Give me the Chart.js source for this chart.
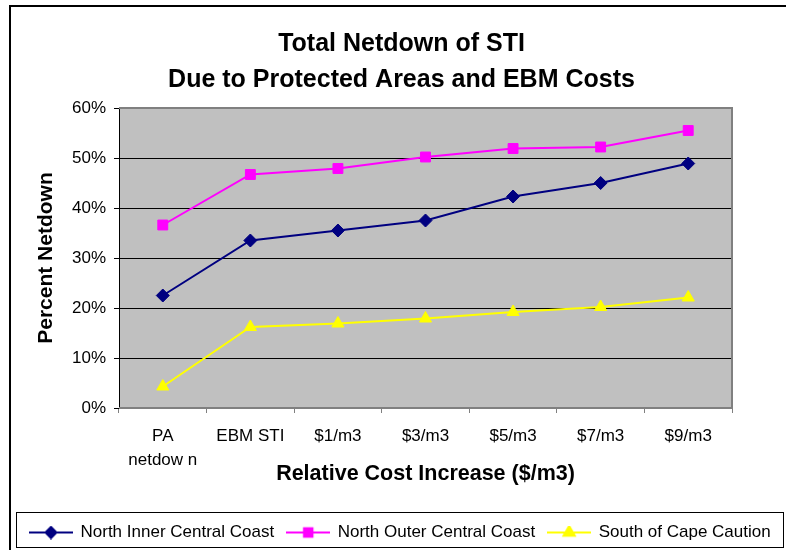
<!DOCTYPE html>
<html>
<head>
<meta charset="utf-8">
<script src="https://cdn.jsdelivr.net/npm/chart.js@4/dist/chart.umd.min.js"></script>
<style>
  body { margin: 0; background: #fff; }
  #wrap { width: 786px; height: 550px; }
</style>
</head>
<body>
<div id="wrap"><canvas id="myChart" width="786" height="550"></canvas></div>
<script>
// values (percent)
const categories = [['PA', 'netdow n'], 'EBM STI', '$1/m3', '$3/m3', '$5/m3', '$7/m3', '$9/m3'];
const northInner = [22.5, 33.5, 35.5, 37.5, 42.3, 45.0, 48.9];
const northOuter = [36.6, 46.7, 47.9, 50.2, 51.9, 52.2, 55.5];
const southCape = [4.3, 16.2, 16.9, 17.9, 19.2, 20.2, 22.1];
const seriesNames = ['North Inner Central Coast', 'North Outer Central Coast', 'South of Cape Caution'];
const yTicks = [0, 10, 20, 30, 40, 50, 60];

const FONT = "'Liberation Sans', Arial, sans-serif";
const PAD_LEFT = 17, PAD_BOTTOM = -1;
const PLOT_BOTTOM = 408, PLOT_LEFT = 119, PLOT_RIGHT = 732;

// little line+marker pictures for the legend, like Excel draws them
function legendIcon(color, style, radius) {
    const c = document.createElement('canvas');
    c.width = 44; c.height = 14;
    const ctx = c.getContext('2d');
    ctx.strokeStyle = color;
    ctx.lineWidth = 2;
    ctx.beginPath();
    ctx.moveTo(0, 7); ctx.lineTo(44, 7);
    ctx.stroke();
    ctx.fillStyle = color;
    Chart.helpers.drawPoint(ctx, { pointStyle: style, radius: radius, borderWidth: 1, rotation: 0 }, 22, 7);
    ctx.fill();
    return c;
}
const icons = [
    legendIcon('#000080', 'rectRot', 5.5),
    legendIcon('#FF00FF', 'rect', 6),
    legendIcon('#FFFF00', 'triangle', 6.5)
];

const frame = {
    id: 'frame',
    beforeDraw(chart) {
        const ctx = chart.ctx;
        const a = chart.chartArea;
        ctx.save();
        ctx.fillStyle = '#fff';
        ctx.fillRect(0, 0, chart.width, chart.height);
        // outer chart border
        ctx.strokeStyle = '#000';
        ctx.lineWidth = 2;
        ctx.strokeRect(10, 6, chart.width + 20, chart.height + 20);
        // plot area
        ctx.fillStyle = '#C0C0C0';
        ctx.fillRect(a.left, a.top, a.right - a.left, a.bottom - a.top);
        ctx.restore();
    },
    beforeDatasetsDraw(chart) {
        const ctx = chart.ctx;
        const a = chart.chartArea;
        ctx.save();
        ctx.strokeStyle = '#808080';
        ctx.lineWidth = 2;
        ctx.beginPath();
        ctx.moveTo(a.left, a.top);
        ctx.lineTo(a.right, a.top);
        ctx.lineTo(a.right, a.bottom);
        ctx.lineTo(a.left, a.bottom);
        ctx.stroke();
        ctx.restore();
    },
    afterDraw(chart) {
        const boxes = chart.legend.legendHitBoxes;
        if (!boxes || !boxes.length) return;
        let l = Infinity, r = -Infinity, t = Infinity;
        boxes.forEach(h => {
            l = Math.min(l, h.left); r = Math.max(r, h.left + h.width);
            t = Math.min(t, h.top);
        });
        const ctx = chart.ctx;
        ctx.save();
        ctx.strokeStyle = '#000';
        ctx.lineWidth = 1;
        ctx.strokeRect(Math.round(l - 14) + 0.5, Math.round(t - 12) + 0.5, Math.round(r - l + 26), 35);
        ctx.restore();
    }
};

new Chart(document.getElementById('myChart'), {
    type: 'line',
    data: {
        labels: categories,
        datasets: [{
            label: seriesNames[0],
            data: northInner,
            borderColor: '#000080',
            backgroundColor: '#000080',
            borderWidth: 2,
            pointStyle: 'rectRot',
            pointRadius: 6.5,
            pointBorderWidth: 1
        }, {
            label: seriesNames[1],
            data: northOuter,
            borderColor: '#FF00FF',
            backgroundColor: '#FF00FF',
            borderWidth: 2,
            pointStyle: 'rect',
            pointRadius: 7,
            pointBorderWidth: 1
        }, {
            label: seriesNames[2],
            data: southCape,
            borderColor: '#FFFF00',
            backgroundColor: '#FFFF00',
            borderWidth: 2,
            pointStyle: 'triangle',
            pointRadius: 7,
            pointBorderWidth: 1
        }]
    },
    options: {
        responsive: false,
        animation: false,
        layout: { padding: { left: PAD_LEFT, right: 0, top: 0, bottom: PAD_BOTTOM } },
        plugins: {
            title: {
                display: true,
                text: ['Total Netdown of STI', 'Due to Protected Areas and EBM Costs'],
                color: '#000',
                font: { family: FONT, size: 25, weight: 'bold', lineHeight: 1.42 },
                padding: { top: 26.75, bottom: 10.25 }
            },
            legend: {
                position: 'bottom',
                align: 'start',
                labels: {
                    color: '#000',
                    font: { family: FONT, size: 17 },
                    usePointStyle: true,
                    pointStyleWidth: 42,
                    padding: 13,
                    generateLabels(chart) {
                        const items = Chart.defaults.plugins.legend.labels.generateLabels(chart);
                        items.forEach((it, i) => { it.pointStyle = icons[i]; });
                        return items;
                    }
                }
            },
            tooltip: { enabled: false }
        },
        scales: {
            x: {
                offset: true,
                grid: { display: true, offset: true, drawOnChartArea: false, drawTicks: true, tickLength: 5, color: '#808080' },
                border: { display: false },
                ticks: { color: '#000', font: { family: FONT, size: 17, lineHeight: 1.42 }, padding: 11, maxRotation: 0 },
                title: {
                    display: true,
                    text: 'Relative Cost Increase ($/m3)',
                    color: '#000',
                    font: { family: FONT, size: 21.5, weight: 'bold' },
                    padding: { top: 0, bottom: 24 }
                },
                afterFit(scale) {
                    const chart = scale.chart;
                    scale.height = chart.height - PAD_BOTTOM - chart.legend.height - PLOT_BOTTOM;
                }
            },
            y: {
                min: 0,
                max: 60,
                afterBuildTicks(scale) { scale.ticks = yTicks.map(v => ({ value: v })); },
                grid: { color: '#000', lineWidth: 1, tickLength: 5 },
                border: { display: true, color: '#000', width: 1 },
                ticks: { color: '#000', font: { family: FONT, size: 17 }, padding: 8, callback: v => v + '%' },
                title: {
                    display: true,
                    text: 'Percent Netdown',
                    color: '#000',
                    font: { family: FONT, size: 21, weight: 'bold' },
                    padding: { top: 17, bottom: 0 }
                },
                afterFit(scale) { scale.width = PLOT_LEFT - PAD_LEFT; }
            },
            // empty right-hand axis that only keeps the white margin right of the plot
            yRight: {
                position: 'right',
                display: true,
                grid: { display: false },
                border: { display: false },
                ticks: { display: false },
                afterFit(scale) { scale.width = 786 - PLOT_RIGHT; }
            }
        }
    },
    plugins: [frame]
});
</script>
</body>
</html>
